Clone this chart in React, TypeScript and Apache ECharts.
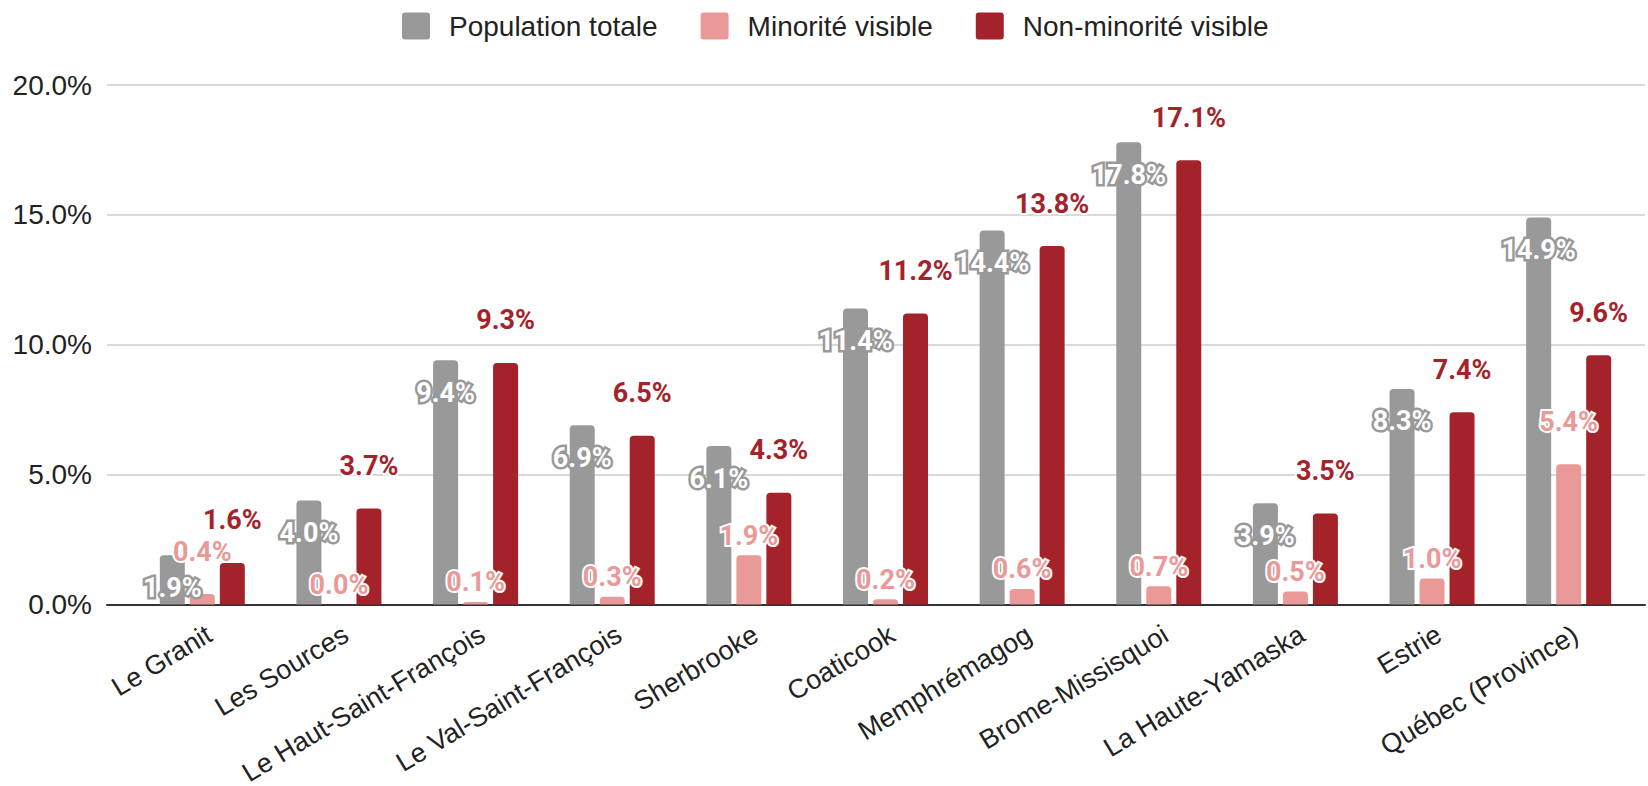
import React, { useEffect, useRef } from "react";
import * as echarts from "echarts";

const categories = [
  "Le Granit",
  "Les Sources",
  "Le Haut-Saint-François",
  "Le Val-Saint-François",
  "Sherbrooke",
  "Coaticook",
  "Memphrémagog",
  "Brome-Missisquoi",
  "La Haute-Yamaska",
  "Estrie",
  "Québec (Province)",
];
const seriesNames = ["Population totale", "Minorité visible", "Non-minorité visible"];
const populationTotale = [1.9, 4.0, 9.4, 6.9, 6.1, 11.4, 14.4, 17.8, 3.9, 8.3, 14.9];
const minoriteVisible = [0.4, 0.0, 0.1, 0.3, 1.9, 0.2, 0.6, 0.7, 0.5, 1.0, 5.4];
const nonMinoriteVisible = [1.6, 3.7, 9.3, 6.5, 4.3, 11.2, 13.8, 17.1, 3.5, 7.4, 9.6];
const yTicks = [0, 5, 10, 15, 20];

// categories where the pink label is lifted higher (to avoid overlap)
const liftedPink = new Set(["Le Granit", "Québec (Province)"]);

const GREY = "#999999";
const PINK = "#ea9999";
const RED = "#a4232b";
const LABEL_FONT = "Roboto";
const AXIS_FONT = "'Liberation Sans', Arial, sans-serif";

// legend icon: rounded square plus an invisible point that widens the icon box
const LEGEND_ICON =
  "path://M3,0 L25,0 Q28,0 28,3 L28,24 Q28,27 25,27 L3,27 Q0,27 0,24 L0,3 Q0,0 3,0 Z M42,13 L42,13";

export default function App() {
  const ref = useRef<HTMLDivElement>(null);
  useEffect(() => {
    document.body.style.margin = "0";
    if (!ref.current) return;
    const chart = echarts.init(ref.current, undefined, { renderer: "svg" });
    const fmt = (p: any) => Number(p.value).toFixed(1) + "%";
    const baseLabel = {
      show: true,
      fontFamily: LABEL_FONT,
      fontWeight: "bold" as const,
      fontSize: 27,
      textBorderWidth: 4,
      formatter: fmt,
    };
    chart.setOption({
      animation: false,
      backgroundColor: "#ffffff",
      legend: {
        data: seriesNames,
        top: 12,
        left: 402,
        padding: 0,
        icon: LEGEND_ICON,
        itemWidth: 42,
        itemHeight: 27,
        itemGap: 43,
        itemStyle: { borderWidth: 0 },
        textStyle: {
          fontFamily: AXIS_FONT,
          fontSize: 28,
          color: "#222222",
        },
      },
      grid: [
        { left: 107, right: 3, top: 85, bottom: 181.5, containLabel: false, outerBoundsMode: "none" },
        { left: 134, right: 11, top: 85, bottom: 181.5, containLabel: false, outerBoundsMode: "none" },
      ],
      xAxis: [
        {
          gridIndex: 0,
          type: "value",
          min: 0,
          max: 1,
          axisLine: { show: true, lineStyle: { color: "#333333", width: 2 } },
          axisTick: { show: false },
          axisLabel: { show: false },
          splitLine: { show: false },
        },
        {
          gridIndex: 1,
          type: "category",
          data: categories,
          axisLine: { show: false },
          axisTick: { show: false },
          axisLabel: {
            rotate: 31,
            interval: 0,
            margin: 16,
            verticalAlign: "top",
            fontFamily: AXIS_FONT,
            fontSize: 27,
            color: "#222222",
          },
        },
      ],
      yAxis: [
        {
          gridIndex: 0,
          type: "value",
          min: yTicks[0],
          max: yTicks[yTicks.length - 1],
          interval: 5,
          axisLine: { show: false },
          axisTick: { show: false },
          axisLabel: {
            margin: 15,
            fontFamily: AXIS_FONT,
            fontSize: 28,
            color: "#222222",
            formatter: (v: number) => v.toFixed(1) + "%",
          },
          splitLine: { show: true, lineStyle: { color: "#cccccc", width: 1.5 } },
        },
        {
          gridIndex: 1,
          type: "value",
          min: yTicks[0],
          max: yTicks[yTicks.length - 1],
          interval: 5,
          show: false,
          splitLine: { show: false },
        },
      ],
      series: [
        {
          name: seriesNames[0],
          type: "bar",
          xAxisIndex: 1,
          yAxisIndex: 1,
          barWidth: 25,
          barGap: "20%",
          data: populationTotale,
          itemStyle: { color: GREY, borderRadius: [4, 4, 0, 0] },
          label: {
            ...baseLabel,
            position: "insideTop",
            distance: 19,
            color: "#ffffff",
            textBorderColor: GREY,
            textBorderWidth: 5,
          },
        },
        {
          name: seriesNames[1],
          type: "bar",
          xAxisIndex: 1,
          yAxisIndex: 1,
          barWidth: 25,
          barGap: "20%",
          data: minoriteVisible.map((v, i) =>
            liftedPink.has(categories[i])
              ? { value: v, label: { distance: 29 } }
              : v
          ),
          itemStyle: { color: PINK, borderRadius: [4, 4, 0, 0] },
          label: {
            ...baseLabel,
            position: "top",
            distance: 6,
            color: PINK,
            textBorderColor: "#ffffff",
          },
        },
        {
          name: seriesNames[2],
          type: "bar",
          xAxisIndex: 1,
          yAxisIndex: 1,
          barWidth: 25,
          barGap: "20%",
          data: nonMinoriteVisible,
          itemStyle: { color: RED, borderRadius: [4, 4, 0, 0] },
          label: {
            ...baseLabel,
            position: "top",
            distance: 29,
            color: RED,
            textBorderColor: "#ffffff",
          },
        },
      ],
    });
    return () => chart.dispose();
  }, []);
  return <div ref={ref} style={{ width: 1648, height: 786 }} />;
}
